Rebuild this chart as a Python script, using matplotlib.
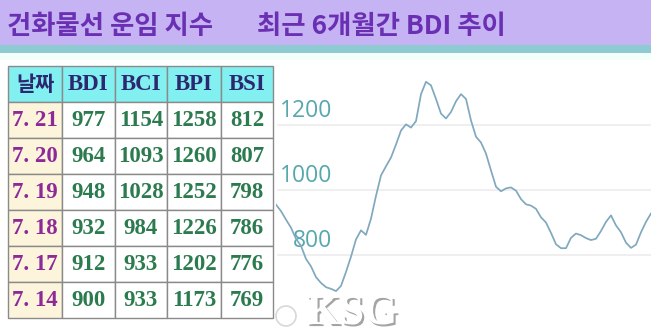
import matplotlib.pyplot as plt
import matplotlib.patheffects as pe
from matplotlib.patches import Rectangle, Circle

# 표 데이터
headers = ["날짜", "BDI", "BCI", "BPI", "BSI"]
dates = ["7. 21", "7. 20", "7. 19", "7. 18", "7. 17", "7. 14"]
bdi = [977, 964, 948, 932, 912, 900]
bci = [1154, 1093, 1028, 984, 933, 933]
bpi = [1258, 1260, 1252, 1226, 1202, 1173]
bsi = [812, 807, 798, 786, 776, 769]

# 최근 6개월 BDI 추이
bdi_6m = [955, 935, 909, 884, 850, 828, 788, 765, 732, 714,
          701, 696, 689, 705, 748, 795, 848, 876, 862, 912,
          982, 1045, 1073, 1100, 1140, 1183, 1202, 1192, 1212, 1295,
          1333, 1322, 1280, 1235, 1220, 1240, 1273, 1295, 1280, 1214,
          1164, 1146, 1112, 1060, 1010, 996, 1005, 1008, 998, 972,
          956, 952, 942, 916, 900, 868, 833, 821, 821, 853,
          866, 861, 852, 846, 850, 874, 902, 922, 891, 870,
          838, 822, 832, 870, 902, 928]
y_ticks = [800, 1000, 1200]

W, H = 651, 334
fig = plt.figure(figsize=(W / 100, H / 100), dpi=100)
fig.patch.set_facecolor("white")

# 배경 / 제목
bg = fig.add_axes([0, 0, 1, 1])
bg.set_xlim(0, W)
bg.set_ylim(H, 0)
bg.axis("off")
bg.add_patch(Rectangle((0, 0), W, 45, color="#c6b3f3", lw=0))
bg.add_patch(Rectangle((0, 45), W, 8, color="#8ecad1", lw=0))
bg.add_patch(Rectangle((0, 53), W, 7, color="#f2fffb", lw=0))

title_kw = dict(family=["Noto Sans CJK KR", "DejaVu Sans"], weight="heavy",
                size=19, color="#6a2fb3", va="center", ha="left")
bg.text(7, 27, "건화물선 운임 지수", **title_kw)
bg.text(257, 27, "최근 6개월간 BDI 추이", **title_kw)

# 워터마크
bg.add_patch(Circle((286, 316), 10, fill=False, ec="#d8d8d8", lw=1.2))
bg.text(352, 314, "KSG", family="Liberation Serif", weight="bold", size=31,
        color="white", ha="center", va="center",
        path_effects=[pe.withSimplePatchShadow(offset=(1.5, -1.5),
                                                shadow_rgbFace="#9a9a9a",
                                                alpha=0.9)])

# 라인 차트
ax = fig.add_axes([276 / W, 0, 375 / W, 274 / H])
ax.patch.set_visible(False)
xs = list(range(len(bdi_6m)))
ax.plot(xs, bdi_6m, color="#80a8be", lw=1.25, zorder=3)
ax.set_xlim(0, len(bdi_6m) - 1)
ax.set_ylim(557, 1400)
for v in y_ticks:
    ax.axhline(v, xmin=2 / 375, color="#ececec", lw=1.2, zorder=1)
    ax.annotate(str(v), xy=((332 - 276) / 375, v),
                xycoords=ax.get_yaxis_transform(),
                xytext=(0, 6), textcoords="offset points",
                ha="right", va="baseline", size=16.5,
                family="Open Sans", weight="normal", color="#56a8ad",
                zorder=2)
for s in ax.spines.values():
    s.set_visible(False)
ax.set_xticks([])
ax.set_yticks([])

# 표
tax = fig.add_axes([8 / W, 16 / H, 265 / W, 252 / H])
tax.axis("off")
rows = [headers] + [[d, str(a), str(b), str(c), str(e)]
                    for d, a, b, c, e in zip(dates, bdi, bci, bpi, bsi)]
col_w = [54, 53, 52, 54, 52]
tbl = tax.table(cellText=rows, bbox=[0, 0, 1, 1], cellLoc="center",
                colWidths=[w / sum(col_w) for w in col_w])
tbl.auto_set_font_size(False)
for (r, c), cell in tbl.get_celld().items():
    cell.set_edgecolor("#8a8a8a")
    cell.set_linewidth(1.0)
    t = cell.get_text()
    t.set_fontsize(16.5)
    t.set_fontweight("bold")
    if r == 0:
        cell.set_facecolor("#82eff1")
        t.set_color("#2c2870")
        if c == 0:
            t.set_fontfamily(["Noto Sans CJK KR", "DejaVu Sans"])
            t.set_fontsize(15)
        else:
            t.set_fontfamily("Liberation Serif")
    elif c == 0:
        cell.set_facecolor("#fdf4dc")
        t.set_color("#8e2a98")
        t.set_fontfamily("Liberation Serif")
    else:
        cell.set_facecolor("white")
        t.set_color("#2b7b4e")
        t.set_fontfamily("Liberation Serif")

fig.savefig("out.png", dpi=100)
